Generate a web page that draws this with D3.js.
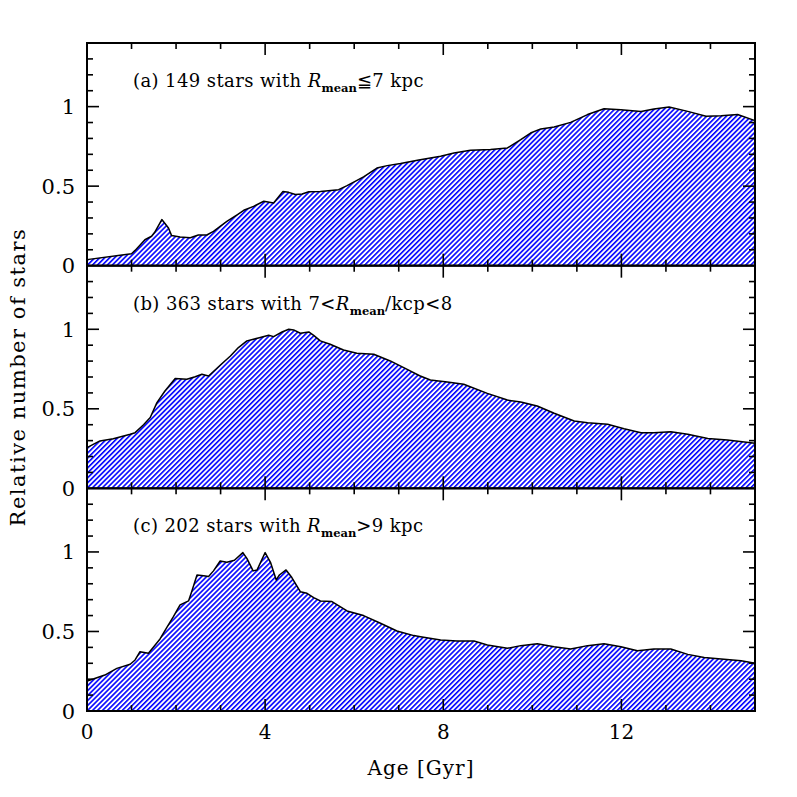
<!DOCTYPE html>
<html>
<head>
<meta charset="utf-8">
<script src="https://cdn.jsdelivr.net/npm/d3@7"></script>
<style>
  html, body { margin: 0; padding: 0; background: #fff; }
  svg { display: block; }
  text { font-family: "DejaVu Serif", serif; fill: #000; }
</style>
</head>
<body>
<svg id="chart" width="797" height="797"></svg>
<script>
// ---------- data ----------
const panelLabels = ["(a) 149 stars with ", "(b) 363 stars with 7<", "(c) 202 stars with "];
const panelLabelTails = ["\u22667 kpc", "/kcp<8", ">9 kpc"];
const xTickLabels = [0, 4, 8, 12];
const yTickLabels = [0, 0.5, 1];

const ageA = [0, 1.0, 1.08, 1.3, 1.45, 1.52, 1.68, 1.83, 1.9, 2.09, 2.32, 2.5, 2.69, 2.84, 3.14, 3.37, 3.52, 3.74, 3.97, 4.19, 4.4, 4.53, 4.68, 4.83, 4.98, 5.24, 5.65, 5.84, 6.21, 6.51, 6.74, 7.04, 7.45, 7.94, 8.24, 8.61, 9.06, 9.44, 9.74, 9.96, 10.19, 10.49, 10.86, 11.24, 11.61, 11.99, 12.44, 12.73, 13.07, 13.49, 13.9, 14.24, 14.61, 15.0];
const valA = [0.038, 0.075, 0.096, 0.163, 0.185, 0.21, 0.29, 0.237, 0.189, 0.18, 0.176, 0.193, 0.193, 0.216, 0.279, 0.32, 0.348, 0.373, 0.405, 0.394, 0.467, 0.461, 0.447, 0.451, 0.465, 0.467, 0.478, 0.503, 0.558, 0.614, 0.629, 0.642, 0.665, 0.688, 0.709, 0.725, 0.73, 0.74, 0.792, 0.834, 0.86, 0.872, 0.901, 0.95, 0.987, 0.981, 0.97, 0.985, 0.998, 0.97, 0.939, 0.943, 0.95, 0.912];

const ageB = [0, 0.29, 0.59, 0.97, 1.08, 1.27, 1.42, 1.57, 1.75, 1.98, 2.24, 2.43, 2.58, 2.73, 2.99, 3.22, 3.4, 3.59, 3.89, 4.08, 4.19, 4.38, 4.53, 4.64, 4.79, 4.98, 5.09, 5.24, 5.46, 5.76, 6.06, 6.44, 6.81, 7.19, 7.47, 7.71, 8.09, 8.46, 8.99, 9.44, 9.74, 10.11, 10.49, 10.94, 11.24, 11.69, 12.06, 12.44, 12.73, 13.11, 13.49, 13.94, 14.38, 15.0];
const valB = [0.256, 0.298, 0.312, 0.34, 0.35, 0.40, 0.445, 0.539, 0.612, 0.69, 0.686, 0.702, 0.717, 0.706, 0.774, 0.832, 0.885, 0.927, 0.948, 0.962, 0.954, 0.983, 1.0, 0.996, 0.975, 0.983, 0.962, 0.927, 0.906, 0.87, 0.849, 0.843, 0.801, 0.748, 0.708, 0.681, 0.669, 0.654, 0.597, 0.555, 0.543, 0.518, 0.472, 0.423, 0.413, 0.403, 0.375, 0.35, 0.35, 0.356, 0.34, 0.314, 0.304, 0.283];

const ageC = [0, 0.14, 0.40, 0.67, 0.97, 1.08, 1.19, 1.38, 1.64, 1.79, 1.94, 2.09, 2.28, 2.35, 2.47, 2.62, 2.73, 2.84, 2.99, 3.14, 3.31, 3.5, 3.59, 3.73, 3.82, 4.0, 4.12, 4.25, 4.32, 4.47, 4.6, 4.79, 4.94, 5.09, 5.24, 5.5, 5.84, 6.21, 6.59, 6.96, 7.34, 7.49, 7.94, 8.31, 8.69, 8.99, 9.44, 9.74, 10.11, 10.49, 10.86, 11.24, 11.61, 11.99, 12.36, 12.73, 13.11, 13.49, 13.86, 14.24, 14.69, 15.0];
const valC = [0.189, 0.201, 0.226, 0.268, 0.294, 0.321, 0.373, 0.363, 0.453, 0.524, 0.593, 0.667, 0.692, 0.75, 0.855, 0.851, 0.845, 0.881, 0.943, 0.935, 0.948, 0.996, 0.96, 0.881, 0.887, 0.996, 0.935, 0.824, 0.855, 0.887, 0.839, 0.75, 0.74, 0.713, 0.692, 0.688, 0.629, 0.6, 0.552, 0.503, 0.474, 0.467, 0.447, 0.44, 0.44, 0.415, 0.394, 0.411, 0.423, 0.404, 0.39, 0.411, 0.423, 0.404, 0.379, 0.39, 0.39, 0.356, 0.337, 0.327, 0.316, 0.30];

const panelsAge = [ageA, ageB, ageC];
const panelsVal = [valA, valB, valC];

// ---------- layout ----------
const svg = d3.select("#chart");
const plotLeft = 87, plotRight = 755, plotTop = 43, plotBottom = 711;
const ph = (plotBottom - plotTop) / 3;

const x = d3.scaleLinear().domain([0, 15]).range([plotLeft, plotRight]);

// "/" hatch
const defs = svg.append("defs");
const pat = defs.append("pattern")
  .attr("id", "hatch")
  .attr("patternUnits", "userSpaceOnUse")
  .attr("width", 3.5).attr("height", 10)
  .attr("patternTransform", "rotate(45)");
pat.append("rect").attr("x", 0).attr("y", 0).attr("width", 1.6).attr("height", 10).attr("fill", "#0000ff");

const xMinor = d3.range(0, 16, 1);
const yMinor = d3.range(0, 1.4001, 0.1).map(v => +v.toFixed(2));

for (let p = 0; p < 3; p++) {
  const pTop = plotTop + p * ph, pBot = pTop + ph;
  const y = d3.scaleLinear().domain([0, 1.4]).range([pBot, pTop]);
  const g = svg.append("g");
  const data = panelsAge[p].map((a, i) => ({ a, v: panelsVal[p][i] }));

  const area = d3.area().x(d => x(d.a)).y0(y(0)).y1(d => y(d.v));
  const line = d3.line().x(d => x(d.a)).y(d => y(d.v));

  g.append("path").datum(data).attr("d", area).attr("fill", "url(#hatch)");
  g.append("path").datum(data).attr("d", line)
    .attr("fill", "none").attr("stroke", "#000").attr("stroke-width", 1.5)
    .attr("stroke-linejoin", "round");

  // ticks (inward, all four sides)
  const tickG = g.append("g").attr("stroke", "#000").attr("stroke-width", 1.6);
  xMinor.forEach(t => {
    if (t === 0 || t === 15) return;
    const len = (t % 4 === 0) ? 12 : 6;
    tickG.append("line").attr("x1", x(t)).attr("x2", x(t)).attr("y1", pBot).attr("y2", pBot - len);
    tickG.append("line").attr("x1", x(t)).attr("x2", x(t)).attr("y1", pTop).attr("y2", pTop + len);
  });
  yMinor.forEach(t => {
    if (t === 0 || t >= 1.4) return;
    const major = Math.abs(t * 2 - Math.round(t * 2)) < 1e-6;
    const len = major ? 12 : 6;
    tickG.append("line").attr("x1", plotLeft).attr("x2", plotLeft + len).attr("y1", y(t)).attr("y2", y(t));
    tickG.append("line").attr("x1", plotRight).attr("x2", plotRight - len).attr("y1", y(t)).attr("y2", y(t));
  });

  // frame
  g.append("rect").attr("x", plotLeft).attr("y", pTop).attr("width", plotRight - plotLeft).attr("height", ph)
    .attr("fill", "none").attr("stroke", "#000").attr("stroke-width", 2);

  // y tick labels
  yTickLabels.forEach(t => {
    g.append("text").attr("x", 75).attr("y", y(t) + 7.5)
      .attr("text-anchor", "end").attr("font-size", 21).text(t === 0 ? "0" : String(t));
  });

  // panel label
  const lab = g.append("text").attr("x", 133).attr("y", pTop + 44)
    .attr("font-size", 18).attr("letter-spacing", 0.4);
  lab.append("tspan").text(panelLabels[p]);
  lab.append("tspan").attr("font-style", "italic").text("R");
  lab.append("tspan").attr("font-size", 11.5).attr("font-weight", "bold").attr("letter-spacing", 0).attr("dy", 5).text("mean");
  lab.append("tspan").attr("dy", -5).text(panelLabelTails[p]);

  if (p === 2) {
    xTickLabels.forEach(t => {
      g.append("text").attr("x", x(t)).attr("y", 739)
        .attr("text-anchor", "middle").attr("font-size", 20).text(t);
    });
  }
}

svg.append("text").attr("x", x(7.5)).attr("y", 775).attr("text-anchor", "middle")
  .attr("font-size", 20).attr("letter-spacing", 1).text("Age [Gyr]");
svg.append("text").attr("transform", "translate(25," + ((plotTop + plotBottom) / 2) + ") rotate(-90)")
  .attr("text-anchor", "middle").attr("font-size", 21).attr("letter-spacing", 1.5)
  .text("Relative number of stars");
</script>
</body>
</html>
